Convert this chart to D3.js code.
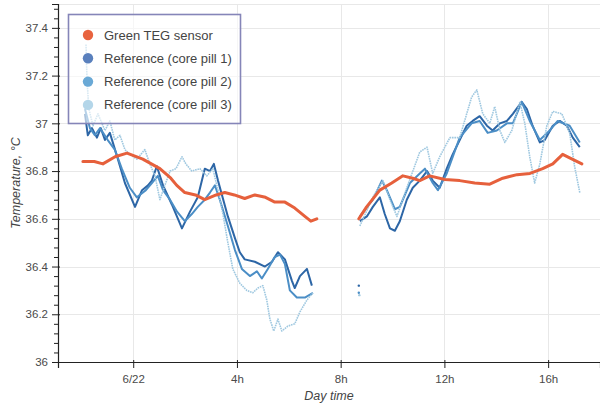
<!DOCTYPE html>
<html>
<head>
<meta charset="utf-8">
<script src="https://cdn.jsdelivr.net/npm/d3@7"></script>
<style>
	body { margin: 0; background: #fff; }
	svg { display: block; }
	text { font-family: "Liberation Sans", Arial, sans-serif; }
</style>
</head>
<body>
<svg width="600" height="408"></svg>
<script>
'use strict';

// [hour of day, temperature °C]; negative hours are the evening before 6/22
const tegMorning = [[-1.94,36.84],[-1.5,36.84],[-1.17,36.83],[-0.7,36.86],[-0.24,36.875],[0.37,36.85],[1.03,36.81],[1.45,36.77],[1.68,36.74],[1.99,36.71],[2.4,36.70],[2.76,36.68],[3.2,36.70],[3.53,36.71],[3.9,36.70],[4.3,36.685],[4.69,36.70],[5.1,36.69],[5.46,36.67],[5.85,36.67],[6.23,36.645],[6.62,36.61],[6.85,36.59],[7.08,36.60]];
const tegAfternoon = [[8.7,36.60],[9.0,36.65],[9.51,36.72],[9.97,36.75],[10.4,36.78],[10.78,36.77],[11.05,36.76],[11.43,36.78],[12.02,36.765],[12.59,36.76],[13.17,36.75],[13.75,36.745],[14.25,36.77],[14.8,36.785],[15.3,36.79],[15.79,36.81],[16.18,36.83],[16.56,36.87],[16.83,36.855],[17.3,36.83]];

const pill1Morning = [[-1.86,37.04],[-1.75,36.95],[-1.59,36.98],[-1.4,36.94],[-1.25,36.98],[-1.09,36.93],[-0.9,36.96],[-0.59,36.85],[-0.32,36.75],[0.07,36.65],[0.34,36.72],[0.57,36.74],[0.72,36.76],[0.91,36.82],[1.15,36.74],[1.49,36.66],[1.88,36.56],[2.19,36.63],[2.49,36.69],[2.76,36.81],[2.96,36.80],[3.11,36.83],[3.27,36.76],[3.65,36.61],[3.92,36.52],[4.11,36.46],[4.3,36.43],[4.69,36.42],[5.08,36.40],[5.35,36.42],[5.58,36.46],[5.85,36.43],[6.12,36.34],[6.23,36.31],[6.43,36.36],[6.7,36.39],[6.89,36.32]];
const pill1Afternoon = [[8.74,36.59],[9.01,36.61],[9.24,36.65],[9.51,36.69],[9.7,36.62],[9.9,36.56],[10.09,36.55],[10.28,36.59],[10.55,36.68],[10.78,36.73],[11.05,36.76],[11.33,36.80],[11.55,36.76],[11.82,36.73],[12.09,36.81],[12.32,36.87],[12.59,36.93],[12.86,36.99],[13.09,37.01],[13.36,37.03],[13.64,36.99],[13.86,36.97],[14.14,37.00],[14.41,37.01],[14.64,37.04],[14.98,37.09],[15.18,37.06],[15.4,36.99],[15.68,36.92],[15.87,36.93],[16.18,36.99],[16.45,37.01],[16.72,36.99],[16.95,36.94],[17.22,36.90]];

const pill2Morning = [[-1.86,37.06],[-1.67,36.98],[-1.48,36.95],[-1.28,36.98],[-0.98,36.93],[-0.71,36.89],[-0.44,36.81],[-0.13,36.73],[0.14,36.69],[0.49,36.72],[0.72,36.75],[0.95,36.78],[1.15,36.72],[1.42,36.68],[1.69,36.63],[1.99,36.59],[2.26,36.62],[2.49,36.65],[2.76,36.68],[2.96,36.71],[3.15,36.74],[3.34,36.68],[3.65,36.57],[3.92,36.47],[4.19,36.39],[4.5,36.36],[4.77,36.38],[4.96,36.35],[5.19,36.39],[5.46,36.44],[5.66,36.45],[5.85,36.41],[6.04,36.30],[6.31,36.27],[6.62,36.27],[6.93,36.29]];
const pill2Afternoon = [[8.74,36.61],[9.24,36.68],[9.59,36.76],[9.78,36.72],[10.09,36.64],[10.28,36.65],[10.67,36.75],[11.05,36.79],[11.25,36.81],[11.55,36.75],[11.75,36.72],[12.09,36.79],[12.59,36.94],[13.05,37.00],[13.36,37.01],[13.67,36.96],[14.02,36.97],[14.41,37.00],[14.64,37.00],[14.98,37.09],[15.29,37.01],[15.68,36.93],[16.06,36.97],[16.37,37.01],[16.83,36.99],[17.22,36.92]];

const pill3Morning = [[-1.82,37.33],[-1.78,37.18],[-1.71,37.06],[-1.55,36.99],[-1.36,37.04],[-1.09,36.97],[-0.9,37.01],[-0.71,36.93],[-0.51,36.95],[-0.32,36.89],[-0.13,36.87],[0.14,36.85],[0.45,36.89],[0.64,36.83],[0.84,36.78],[1.03,36.68],[1.22,36.74],[1.42,36.80],[1.65,36.81],[1.88,36.86],[2.03,36.83],[2.26,36.80],[2.57,36.81],[2.84,36.78],[3.07,36.81],[3.27,36.72],[3.46,36.62],[3.65,36.50],[3.84,36.39],[4.11,36.33],[4.38,36.30],[4.61,36.29],[4.81,36.31],[5.0,36.32],[5.15,36.26],[5.27,36.18],[5.42,36.13],[5.58,36.18],[5.73,36.13],[5.96,36.15],[6.23,36.16],[6.43,36.21],[6.7,36.26],[6.93,36.29]];
const pill3Afternoon = [[8.74,36.57],[9.24,36.69],[9.63,36.76],[9.9,36.68],[10.17,36.61],[10.55,36.73],[11.05,36.88],[11.33,36.90],[11.55,36.79],[11.82,36.86],[12.21,36.94],[12.59,36.94],[12.86,37.04],[13.05,37.11],[13.25,37.14],[13.48,37.04],[13.75,37.00],[13.94,37.07],[14.14,36.97],[14.33,36.92],[14.6,36.97],[14.91,37.09],[15.1,37.00],[15.29,36.86],[15.48,36.75],[15.68,36.83],[15.95,36.99],[16.18,37.05],[16.53,37.04],[16.83,36.96],[17.02,36.82],[17.22,36.71]];

// lone readings just before the afternoon block: [hour, temp, pill]
const pillStrays = [[8.7,36.32,1],[8.7,36.29,2],[8.72,36.28,3]];

const seriesNames = ["Green TEG sensor", "Reference (core pill 1)", "Reference (core pill 2)", "Reference (core pill 3)"];
const lineColors = ["#e6603c", "#2d66a6", "#4b8ec6", "#9fc8e0"];
const legendColors = ["#e8633f", "#5a80bd", "#6aa9d6", "#b4d6e9"];

const xTicks = [0, 4, 8, 12, 16];
const xTickLabels = ["6/22", "4h", "8h", "12h", "16h"];
const yTicks = [36, 36.2, 36.4, 36.6, 36.8, 37, 37.2, 37.4];

const svg = d3.select("svg");
const plotLeft = 58, plotRight = 600, plotTop = 4, plotBottom = 362;

const x = d3.scaleLinear().domain([-2.9, 18]).range([plotLeft, plotRight]);
const y = d3.scaleLinear().domain([36, 37.5]).range([plotBottom, plotTop]);

// grid
const grid = svg.append("g").attr("stroke", "#e8e8e8").attr("stroke-width", 1);
grid.selectAll(".gx").data(xTicks).enter().append("line")
	.attr("x1", d => Math.round(x(d)) + 0.5).attr("x2", d => Math.round(x(d)) + 0.5)
	.attr("y1", plotTop).attr("y2", plotBottom);
grid.selectAll(".gy").data(yTicks).enter().append("line")
	.attr("x1", plotLeft).attr("x2", plotRight)
	.attr("y1", d => Math.round(y(d)) + 0.5).attr("y2", d => Math.round(y(d)) + 0.5);
grid.append("line").attr("x1", plotLeft).attr("x2", plotRight).attr("y1", plotTop + 0.5).attr("y2", plotTop + 0.5);

const line = d3.line().x(d => x(d[0])).y(d => y(d[1]));

const plot = svg.append("g");
const runs = [
	[pill1Morning, pill1Afternoon],
	[pill2Morning, pill2Afternoon],
	[pill3Morning, pill3Afternoon]
];
runs.forEach((segs, i) => {
	segs.forEach(seg => {
		plot.append("path")
			.attr("d", line(seg))
			.attr("fill", "none")
			.attr("stroke", lineColors[i + 1])
			.attr("stroke-width", i === 2 ? 1.6 : 2)
			.attr("stroke-dasharray", i === 2 ? "1.6,0.8" : null)
			.attr("stroke-linejoin", "round");
	});
});
[tegMorning, tegAfternoon].forEach(seg => {
	plot.append("path")
		.attr("d", line(seg))
		.attr("fill", "none")
		.attr("stroke", lineColors[0])
		.attr("stroke-width", 3)
		.attr("stroke-linejoin", "round")
		.attr("stroke-linecap", "round");
});
plot.selectAll(".stray").data(pillStrays).enter().append("circle")
	.attr("cx", d => x(d[0])).attr("cy", d => y(d[1]))
	.attr("r", 1.2)
	.attr("fill", d => lineColors[d[2]]);

// axes
const xAxis = svg.append("g")
	.attr("transform", `translate(0,${plotBottom})`)
	.call(d3.axisBottom(x).tickValues(xTicks).tickFormat((d, i) => xTickLabels[i]).tickSizeOuter(0).tickSize(6).tickPadding(7));
xAxis.selectAll(".tick line").attr("y1", -2);

const yAxis = svg.append("g")
	.attr("transform", `translate(${plotLeft},0)`)
	.call(d3.axisLeft(y).tickValues(yTicks).tickFormat(d3.format("~g")).tickSizeOuter(0).tickSize(6).tickPadding(4));
yAxis.selectAll(".tick line").attr("x1", 2);

const minorTicks = d3.range(36, 37.5, 0.04).filter(v => !yTicks.some(t => Math.abs(t - v) < 1e-6));
svg.append("g")
	.attr("transform", `translate(${plotLeft},0)`)
	.call(d3.axisLeft(y).tickValues(minorTicks).tickFormat("").tickSize(4).tickSizeOuter(0))
	.call(g => g.select(".domain").remove());

svg.selectAll(".domain").attr("stroke", "#222").attr("stroke-width", 1.2);
svg.selectAll(".tick line").attr("stroke", "#222");
svg.selectAll(".tick text")
	.attr("font-family", "'Liberation Sans', Arial, sans-serif")
	.attr("font-size", 11.5)
	.attr("fill", "#4a4a4a");

// axis titles
svg.append("text")
	.attr("x", (plotLeft + plotRight) / 2).attr("y", 400)
	.attr("text-anchor", "middle")
	.attr("font-family", "'Liberation Serif', 'Times New Roman', serif")
	.attr("font-style", "italic")
	.attr("font-size", 12.5)
	.attr("fill", "#444")
	.text("Day time");
svg.append("text")
	.attr("transform", `translate(16,${(plotTop + plotBottom) / 2}) rotate(-90)`)
	.attr("text-anchor", "middle")
	.attr("dominant-baseline", "central")
	.attr("font-family", "'Liberation Serif', 'Times New Roman', serif")
	.attr("font-style", "italic")
	.attr("font-size", 12.5)
	.attr("fill", "#444")
	.text("Temperature, °C");

// legend
const legend = svg.append("g");
legend.append("rect")
	.attr("x", 68.5).attr("y", 14.5).attr("width", 172).attr("height", 109)
	.attr("fill", "#fff").attr("fill-opacity", 0.6)
	.attr("stroke", "#8585b8").attr("stroke-width", 1.6);
const items = legend.selectAll(".item").data(seriesNames).enter().append("g")
	.attr("transform", (d, i) => `translate(0,${35 + i * 23.3})`);
items.append("circle")
	.attr("cx", 88).attr("cy", 0).attr("r", 5.2)
	.attr("fill", (d, i) => legendColors[i]);
items.append("text")
	.attr("x", 104).attr("y", 0)
	.attr("dominant-baseline", "central")
	.attr("font-size", 13)
	.attr("fill", "#444")
	.text(d => d);
</script>
</body>
</html>
